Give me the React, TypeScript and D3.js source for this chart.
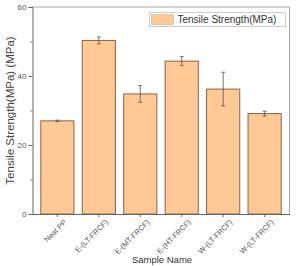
import { useEffect, useRef } from 'react';
import * as d3 from 'd3';

const categories = ['Neat PP', 'E-(LT-FRCF)', 'E-(MT-FRCF)', 'E-(HT-FRCF)', 'W-(LT-FRCF)', 'W-(LT-FRCF)'];
const values = [27.0, 50.3, 34.8, 44.3, 36.2, 29.1];
const errors = [0.2, 1.0, 2.4, 1.3, 4.9, 0.7];
const yTicks = [0, 20, 40, 60];
const yMinorTicks = [10, 30, 50];

const W = 296;
const H = 266;

export default function App() {
  const svgRef = useRef<SVGSVGElement>(null);

  useEffect(() => {
    if (!svgRef.current) return;
    const margin = { top: 7, right: 6.5, bottom: 52, left: 32.5 };
    const innerW = W - margin.left - margin.right;
    const innerH = H - margin.top - margin.bottom;
    const font = 'Arial, "Liberation Sans", sans-serif';
    const textColor = '#555';

    const svg = d3.select(svgRef.current);
    svg.selectAll('*').remove();

    const g = svg.append('g').attr('transform', `translate(${margin.left},${margin.top})`);

    const idx = categories.map((_, i) => i);
    const x = d3.scaleBand<number>().domain(idx).range([0, innerW]).padding(0.2);
    const y = d3.scaleLinear().domain([0, 60]).range([innerH, 0]);

    // Frame: top + right lighter
    g.append('line').attr('x1', 0).attr('x2', innerW).attr('y1', 0).attr('y2', 0)
      .attr('stroke', '#aaa').attr('stroke-width', 1);
    g.append('line').attr('x1', innerW).attr('x2', innerW).attr('y1', 0).attr('y2', innerH)
      .attr('stroke', '#aaa').attr('stroke-width', 1);

    // Bars
    g.selectAll('.bar')
      .data(idx)
      .join('rect')
      .attr('class', 'bar')
      .attr('x', (i) => x(i)!)
      .attr('y', (i) => y(values[i]))
      .attr('width', x.bandwidth())
      .attr('height', (i) => innerH - y(values[i]))
      .attr('fill', '#ffc894')
      .attr('stroke', '#8c6446')
      .attr('stroke-width', 1);

    // Error bars
    const cap = 2;
    const eb = g.selectAll('.err').data(idx).join('g').attr('class', 'err')
      .attr('stroke', '#555').attr('stroke-width', 0.8);
    eb.append('line')
      .attr('x1', (i) => x(i)! + x.bandwidth() / 2)
      .attr('x2', (i) => x(i)! + x.bandwidth() / 2)
      .attr('y1', (i) => y(values[i] + errors[i]))
      .attr('y2', (i) => y(values[i] - errors[i]));
    eb.append('line')
      .attr('x1', (i) => x(i)! + x.bandwidth() / 2 - cap)
      .attr('x2', (i) => x(i)! + x.bandwidth() / 2 + cap)
      .attr('y1', (i) => y(values[i] + errors[i]))
      .attr('y2', (i) => y(values[i] + errors[i]));
    eb.append('line')
      .attr('x1', (i) => x(i)! + x.bandwidth() / 2 - cap)
      .attr('x2', (i) => x(i)! + x.bandwidth() / 2 + cap)
      .attr('y1', (i) => y(values[i] - errors[i]))
      .attr('y2', (i) => y(values[i] - errors[i]));

    // Y axis
    const yAxis = g.append('g')
      .call(d3.axisLeft(y).tickValues(yTicks).tickSize(4).tickPadding(2).tickFormat(d3.format('d')));
    yAxis.select('.domain').attr('stroke', '#666');
    yAxis.selectAll('.tick line').attr('stroke', '#666');
    yAxis.selectAll('.tick text')
      .attr('fill', textColor)
      .style('font-size', '8px')
      .style('font-family', font);
    g.append('g')
      .call(d3.axisLeft(y).tickValues(yMinorTicks).tickSize(2).tickFormat(() => ''))
      .call((s) => s.select('.domain').remove())
      .selectAll('.tick line').attr('stroke', '#666');

    // X axis
    const xAxis = g.append('g')
      .attr('transform', `translate(0,${innerH})`)
      .call(d3.axisBottom(x).tickSize(3).tickSizeOuter(0).tickFormat(() => ''));
    xAxis.select('.domain').attr('stroke', '#666');
    xAxis.selectAll('.tick line').attr('stroke', '#666');

    g.selectAll('.xlabel')
      .data(idx)
      .join('text')
      .attr('class', 'xlabel')
      .attr('transform', (i) => `translate(${x(i)! + x.bandwidth() / 2 + 6},${innerH + 5}) rotate(-45)`)
      .attr('text-anchor', 'end')
      .attr('dy', '0.7em')
      .attr('fill', textColor)
      .style('font-size', '7.5px')
      .style('font-family', font)
      .text((i) => categories[i]);

    // Axis titles
    svg.append('text')
      .attr('x', margin.left + innerW / 2 + 1)
      .attr('y', 263)
      .attr('text-anchor', 'middle')
      .attr('fill', '#333')
      .style('font-size', '9.5px')
      .style('font-family', font)
      .text('Sample Name');

    svg.append('text')
      .attr('transform', `translate(14,${margin.top + innerH / 2}) rotate(-90)`)
      .attr('text-anchor', 'middle')
      .attr('fill', '#444')
      .style('font-size', '11.5px')
      .style('font-family', font)
      .text('Tensile Strength(MPa) (MPa)');

    // Legend
    const lg = svg.append('g').attr('transform', 'translate(149.5,12.5)');
    lg.append('rect').attr('width', 136).attr('height', 14)
      .attr('fill', 'white').attr('stroke', '#ccc').attr('stroke-width', 1);
    lg.append('rect').attr('x', 2).attr('y', 2).attr('width', 22).attr('height', 10)
      .attr('fill', '#ffc894').attr('stroke', '#c8b4a0').attr('stroke-width', 0.6);
    lg.append('text').attr('x', 28).attr('y', 10.8)
      .attr('fill', '#333')
      .style('font-size', '10px')
      .style('font-family', font)
      .text('Tensile Strength(MPa)');
  }, []);

  return (
    <div style={{ position: 'fixed', left: 0, top: 0, width: W, height: H, background: 'white' }}>
      <svg ref={svgRef} width={W} height={H} style={{ display: 'block' }} />
    </div>
  );
}
